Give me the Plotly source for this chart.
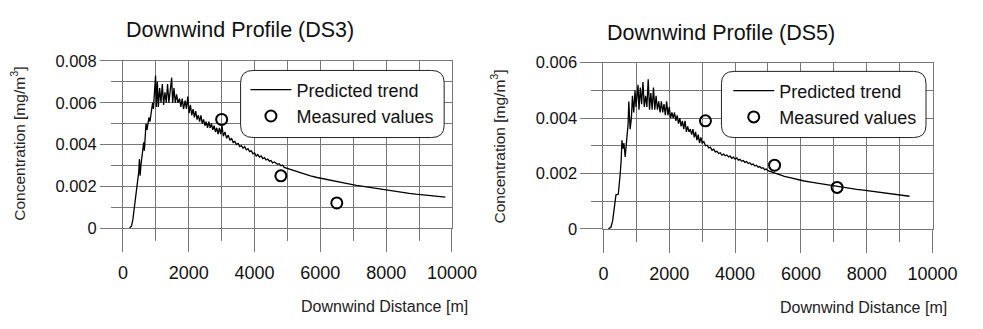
import plotly.graph_objects as go

W, H = 983, 329

# ---------------- data ----------------
ds3_distance = [200, 260, 300, 340, 380, 420, 450, 480, 500, 520, 545, 570, 600, 630, 650, 670, 700, 730,
                760, 790, 820, 850, 875, 900, 925, 960, 990, 1015, 1045, 1075, 1115, 1155, 1195, 1235,
                1275, 1315, 1355, 1395, 1435, 1480, 1510, 1550, 1590, 1630, 1670, 1720, 1760, 1800, 1840,
                1890, 1930, 1970, 2010, 2050, 2090, 2130, 2170, 2210, 2250, 2290, 2330, 2370, 2410, 2450,
                2490, 2530, 2570, 2610, 2650, 2690, 2730, 2770, 2810, 2850, 2890, 2930, 2970, 3010, 3050,
                3100, 3150, 3200, 3250, 3300, 3350, 3400, 3450, 3500, 3550, 3600, 3650, 3700, 3750, 3800,
                3850, 3900, 3950, 4000, 4050, 4100, 4150, 4200, 4250, 4300, 4350, 4400, 4450, 4500, 4550,
                4600, 4700, 4750, 4800, 4850, 4900, 5000, 5100, 5200, 5300, 5400, 5500, 5700, 5900, 6100,
                6300, 6500, 6700, 6900, 7100, 7300, 7500, 7700, 7900, 8100, 8300, 8500, 8700, 8900, 9100,
                9300, 9500, 9800]
ds3_conc = [0.0000, 0.0001, 0.0004, 0.0009, 0.0013, 0.0017, 0.0022, 0.0027, 0.0033, 0.0025, 0.0030, 0.0034,
            0.0039, 0.0041, 0.0037, 0.0046, 0.0050, 0.0047, 0.0051, 0.0053, 0.0051, 0.0055, 0.0057, 0.0060,
            0.0057, 0.0064, 0.0073, 0.0058, 0.0070, 0.0058, 0.0067, 0.0060, 0.0069, 0.0059, 0.0065, 0.0060,
            0.0069, 0.0060, 0.0067, 0.0072, 0.0060, 0.0067, 0.0060, 0.0064, 0.0060, 0.0062, 0.0058, 0.0062,
            0.0057, 0.0061, 0.0057, 0.0063, 0.0055, 0.0059, 0.0054, 0.0057, 0.0053, 0.0056, 0.0052, 0.0054,
            0.0051, 0.0054, 0.0050, 0.0052, 0.0049, 0.0051, 0.0048, 0.0051, 0.0048, 0.0050, 0.0047, 0.0049,
            0.0046, 0.0048, 0.0045, 0.0048, 0.0045, 0.0049, 0.0044,
            0.0046, 0.0043, 0.00445, 0.0042, 0.0043, 0.0041, 0.00415, 0.0040, 0.00405, 0.0039, 0.00395,
            0.00382, 0.0039, 0.00375, 0.0038, 0.00366, 0.0037, 0.00355, 0.0036, 0.00345, 0.00352, 0.0034,
            0.00345, 0.00332, 0.00337, 0.00326, 0.0033, 0.0032, 0.00323, 0.00312, 0.00316, 0.00305, 0.00308,
            0.00298, 0.00302, 0.0029, 0.00285, 0.0028, 0.00272, 0.00268, 0.00262, 0.00258, 0.0025, 0.00242,
            0.00235, 0.00228, 0.00222, 0.00216, 0.0021, 0.00204, 0.00199, 0.00194, 0.00189, 0.00183, 0.00178,
            0.00174, 0.0017, 0.00166, 0.00162, 0.00159, 0.00156, 0.00152, 0.00148]
ds3_meas_distance = [3000, 4800, 6500]
ds3_meas_conc = [0.0052, 0.0025, 0.0012]

ds5_distance = [150, 230, 280, 310, 350, 380, 450, 480, 510, 540, 560, 590, 620, 660, 710, 750, 770, 810,
                850, 880, 920, 960, 990, 1020, 1050, 1080, 1120, 1160, 1200, 1240, 1280, 1320, 1360, 1400,
                1440, 1480, 1520, 1560, 1600, 1640, 1680, 1720, 1760, 1800, 1840, 1880, 1920, 1960, 2000,
                2040, 2080, 2120, 2160, 2200, 2240, 2280, 2320, 2360, 2400, 2440, 2480, 2520, 2560, 2600,
                2640, 2680, 2720, 2760, 2800, 2840, 2880, 2920, 2960, 3000, 3050, 3100, 3150, 3200, 3250,
                3300, 3350, 3400, 3450, 3500, 3550, 3600, 3650, 3700, 3750, 3800, 3850, 3900, 3950, 4000,
                4050, 4100, 4150, 4200, 4250, 4300, 4350, 4400, 4450, 4500, 4550, 4600, 4650, 4700, 4750,
                4800, 4850, 4900, 4950, 5000, 5100, 5200, 5300, 5400, 5500, 5700, 5900, 6100, 6300, 6500,
                6700, 6900, 7100, 7300, 7500, 7700, 7900, 8100, 8300, 8500, 8700, 8900, 9100, 9300]
ds5_conc = [0.0000, 0.00007, 0.0003, 0.00066, 0.00106, 0.00123, 0.00125, 0.00157, 0.0020, 0.0025, 0.0032,
            0.0029, 0.0031, 0.0026, 0.0034, 0.0038, 0.0046, 0.0036, 0.0040, 0.0048, 0.0042, 0.0050, 0.0044,
            0.0047, 0.0052, 0.0043, 0.0051, 0.0045, 0.0053, 0.0044, 0.0048, 0.0044, 0.0054, 0.0043, 0.0049,
            0.0043, 0.0051, 0.0043, 0.0048, 0.0043, 0.0046, 0.0042, 0.0046, 0.0042, 0.0045, 0.0041, 0.0046,
            0.0041, 0.0044, 0.0040, 0.0042, 0.0040, 0.0042, 0.0039, 0.0041, 0.0038, 0.0040, 0.0037, 0.0039,
            0.0036, 0.0039, 0.0035, 0.0037, 0.0035, 0.0036, 0.0034, 0.0036, 0.0033, 0.0035, 0.0032, 0.0034,
            0.0031, 0.0033, 0.0031, 0.00315, 0.0030, 0.00302, 0.00292, 0.00295, 0.00284, 0.00288, 0.00278,
            0.0028, 0.00272, 0.00275, 0.00266, 0.0027, 0.00264, 0.00267, 0.0026, 0.00263, 0.00255, 0.00259,
            0.00252, 0.00256, 0.00248, 0.00251, 0.00244, 0.00247, 0.0024, 0.00243, 0.00236, 0.00239, 0.00232,
            0.00234, 0.00227, 0.0023, 0.00223, 0.00225, 0.00219, 0.00221, 0.00214, 0.00216, 0.0021, 0.00206,
            0.00201, 0.00197, 0.00193, 0.0019, 0.00184, 0.00178, 0.00173, 0.00169, 0.00165, 0.00161, 0.00157,
            0.00153, 0.0015, 0.00146, 0.00143, 0.0014, 0.00137, 0.00134, 0.00131, 0.00128, 0.00125, 0.00122,
            0.00118]
ds5_meas_distance = [3100, 5200, 7100]
ds5_meas_conc = [0.0039, 0.0023, 0.0015]

x_major_step, x_minor_step = 2000, 1000
y_major_step, y_minor_step = 0.002, 0.001
x_max = 10000
ds3_y_max = 0.008
ds5_y_max = 0.006

titles = ["Downwind Profile (DS3)", "Downwind Profile (DS5)"]
x_title = "Downwind Distance [m]"
y_title = "Concentration [mg/m<sup>3</sup>]"
legend_names = ["Predicted trend", "Measured values"]

# ---------------- styling helpers ----------------
FONT = "Arial, 'Liberation Sans', sans-serif"
GRID = "#777777"


def px(x):
    return x / W


def py(y):
    return 1 - y / H


def rounded_box(x0, y0, x1, y1, r):
    pts = [
        ("M", [(x0 + r, y0)]),
        ("L", [(x1 - r, y0)]),
        ("Q", [(x1, y0), (x1, y0 + r)]),
        ("L", [(x1, y1 - r)]),
        ("Q", [(x1, y1), (x1 - r, y1)]),
        ("L", [(x0 + r, y1)]),
        ("Q", [(x0, y1), (x0, y1 - r)]),
        ("L", [(x0, y0 + r)]),
        ("Q", [(x0, y0), (x0 + r, y0)]),
    ]
    s = ""
    for cmd, coords in pts:
        s += cmd + " " + " ".join(f"{px(a):.5f},{py(b):.5f}" for a, b in coords) + " "
    return s + "Z"


fig = go.Figure()

panels = [
    dict(xd=ds3_distance, yd=ds3_conc, mx=ds3_meas_distance, my=ds3_meas_conc, legend="legend",
         xa="x", ya="y"),
    dict(xd=ds5_distance, yd=ds5_conc, mx=ds5_meas_distance, my=ds5_meas_conc, legend="legend2",
         xa="x2", ya="y2"),
]
for p in panels:
    fig.add_trace(go.Scatter(x=p["xd"], y=p["yd"], mode="lines", name=legend_names[0],
                             line=dict(color="black", width=1.3), xaxis=p["xa"], yaxis=p["ya"],
                             legend=p["legend"], cliponaxis=False))
    fig.add_trace(go.Scatter(x=p["mx"], y=p["my"], mode="markers", name=legend_names[1],
                             marker=dict(symbol="circle-open", size=11, color="black",
                                         line=dict(width=2, color="black")),
                             xaxis=p["xa"], yaxis=p["ya"], legend=p["legend"], cliponaxis=False))


def xaxis_cfg(x0, x1, anchor):
    return dict(domain=[px(x0), px(x1)], anchor=anchor, range=[0, x_max],
                tickmode="linear", tick0=0, dtick=x_major_step, tickformat="d",
                ticks="outside", ticklen=23, tickcolor=GRID, tickwidth=1,
                ticklabelstandoff=5,
                showgrid=True, gridcolor=GRID, gridwidth=1,
                minor=dict(tickmode="linear", tick0=0, dtick=x_minor_step, ticks="outside",
                           ticklen=12, tickcolor=GRID, tickwidth=1,
                           showgrid=True, gridcolor=GRID, gridwidth=1),
                showline=True, mirror=True, linecolor=GRID, linewidth=1,
                zeroline=False, fixedrange=True,
                tickfont=dict(family=FONT, size=18, color="#111"))


def yaxis_cfg(y0, y1, anchor, top):
    return dict(domain=[py(y1), py(y0)], anchor=anchor, range=[0, top],
                tickmode="linear", tick0=0, dtick=y_major_step,
                ticks="outside", ticklen=22, tickcolor=GRID, tickwidth=1,
                showgrid=True, gridcolor=GRID, gridwidth=1,
                minor=dict(tickmode="linear", tick0=0, dtick=y_minor_step, ticks="outside",
                           ticklen=11, tickcolor=GRID, tickwidth=1,
                           showgrid=True, gridcolor=GRID, gridwidth=1),
                showline=True, mirror=True, linecolor=GRID, linewidth=1,
                zeroline=False, fixedrange=True,
                tickfont=dict(family=FONT, size=16.5, color="#111"))


legend_common = dict(bgcolor="rgba(0,0,0,0)", borderwidth=0, xanchor="left", yanchor="top",
                     font=dict(family=FONT, size=18, color="#111"), tracegroupgap=0,
                     itemwidth=41)

fig.update_layout(
    width=W, height=H,
    margin=dict(l=0, r=0, t=0, b=0),
    paper_bgcolor="white", plot_bgcolor="white",
    xaxis=xaxis_cfg(121.7, 461.0, "y"),
    yaxis=yaxis_cfg(55.0, 231.7, "x", ds3_y_max),
    xaxis2=xaxis_cfg(617.3, 956.7, "y2"),
    yaxis2=yaxis_cfg(56.7, 232.7, "x2", ds5_y_max),
    legend=dict(x=px(248), y=py(66), **legend_common),
    legend2=dict(x=px(746), y=py(67), **legend_common),
    showlegend=True,
)

# rounded legend frames
for box in [(243, 65, 453, 136), (739, 66, 950, 136)]:
    fig.add_shape(type="path", path=rounded_box(*box, 13), xref="paper", yref="paper",
                  line=dict(color="#222", width=1), fillcolor="white", layer="above")

# panel titles
for t, (x, y) in zip(titles, [(123, 22), (619, 25)]):
    fig.add_annotation(text=t, x=px(x), y=py(y), xref="paper", yref="paper", xanchor="left",
                       yanchor="middle", showarrow=False,
                       font=dict(family=FONT, size=21.5, color="#111"))

# axis titles
for (x, y) in [(480, 315), (974, 316)]:
    fig.add_annotation(text=x_title, x=px(x), y=py(y), xref="paper", yref="paper", xanchor="right",
                       yanchor="middle", showarrow=False,
                       font=dict(family=FONT, size=16, color="#222"))
for (x, y) in [(14, 143), (509, 145)]:
    fig.add_annotation(text=y_title, x=px(x), y=py(y), xref="paper", yref="paper", xanchor="center",
                       yanchor="middle", showarrow=False, textangle=-90,
                       font=dict(family=FONT, size=15.5, color="#222"))

fig.write_html("out.html")
